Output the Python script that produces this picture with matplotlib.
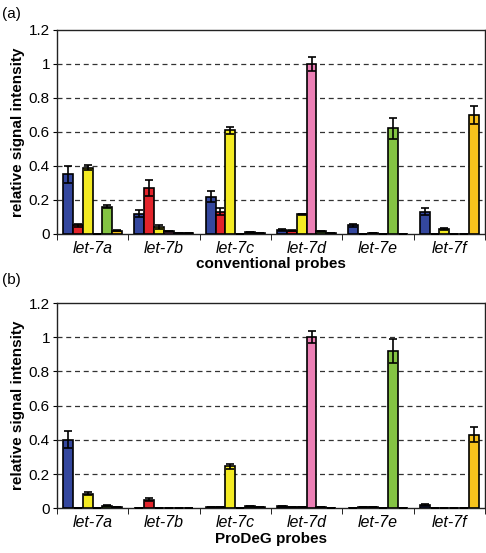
import numpy as np
import matplotlib
matplotlib.use('Agg')
import matplotlib.pyplot as plt

plt.rcParams['font.family'] = ['Liberation Sans', 'DejaVu Sans']

groups = ['let-7a', 'let-7b', 'let-7c', 'let-7d', 'let-7e', 'let-7f']
colors = ['#34479e', '#e2242b', '#f4eb23', '#ec7fb5', '#84c343', '#f7c31c']

# panel (a) conventional probes: rows = bar colour, cols = group
conv_vals = [
    [0.35, 0.12, 0.22, 0.025, 0.05, 0.13],
    [0.05, 0.27, 0.13, 0.02, 0.0, 0.0],
    [0.39, 0.04, 0.61, 0.115, 0.005, 0.03],
    [0.0, 0.015, 0.0, 1.0, 0.0, 0.0],
    [0.16, 0.005, 0.01, 0.015, 0.62, 0.0],
    [0.02, 0.005, 0.005, 0.005, 0.0, 0.70],
]
conv_err = [
    [0.05, 0.02, 0.035, 0.005, 0.01, 0.02],
    [0.01, 0.045, 0.02, 0.003, 0.0, 0.0],
    [0.015, 0.01, 0.02, 0.005, 0.0, 0.005],
    [0.0, 0.003, 0.0, 0.04, 0.0, 0.0],
    [0.01, 0.0, 0.003, 0.003, 0.06, 0.0],
    [0.003, 0.0, 0.0, 0.0, 0.0, 0.055],
]

# panel (b) ProDeG probes
prodeg_vals = [
    [0.40, 0.0, 0.005, 0.01, 0.0, 0.02],
    [0.0, 0.05, 0.005, 0.005, 0.005, 0.0],
    [0.085, 0.0, 0.245, 0.005, 0.005, 0.0],
    [0.0, 0.0, 0.0, 1.0, 0.0, 0.0],
    [0.015, 0.0, 0.01, 0.005, 0.92, 0.0],
    [0.005, 0.0, 0.005, 0.0, 0.0, 0.43],
]
prodeg_err = [
    [0.05, 0.0, 0.0, 0.003, 0.0, 0.005],
    [0.0, 0.01, 0.0, 0.0, 0.0, 0.0],
    [0.01, 0.0, 0.015, 0.0, 0.0, 0.0],
    [0.0, 0.0, 0.0, 0.035, 0.0, 0.0],
    [0.003, 0.0, 0.003, 0.0, 0.07, 0.0],
    [0.0, 0.0, 0.0, 0.0, 0.0, 0.045],
]

yticks = [0, 0.2, 0.4, 0.6, 0.8, 1.0, 1.2]
ytick_labels = ['0', '0.2', '0.4', '0.6', '0.8', '1', '1.2']


def draw_panel(ax, vals, errs, xlabel):
    x = np.arange(len(groups))
    w = 0.138
    for i in range(len(vals)):
        pos = x - 2.5 * w + i * w
        ax.bar(pos, vals[i], width=w, color=colors[i], edgecolor='black',
               linewidth=1.2, zorder=3)
        ax.errorbar(pos, vals[i], yerr=errs[i], fmt='none', ecolor='black',
                    elinewidth=1.2, capsize=3, capthick=1.2, zorder=4)
    ax.set_xlim(-0.5, len(groups) - 0.5)
    ax.set_ylim(0, 1.2)
    ax.set_yticks(yticks)
    ax.set_yticklabels(ytick_labels, fontsize=11)
    ax.set_xticks(x)
    ax.set_xticklabels(groups, fontsize=11.5, style='italic')
    ax.tick_params(axis='x', length=0, pad=5)
    ax.set_xticks(np.arange(len(groups) + 1) - 0.5, minor=True)
    ax.tick_params(axis='x', which='minor', length=4, direction='out')
    ax.tick_params(axis='y', length=3, direction='out', pad=2)
    for yv in yticks[1:-1]:
        ax.axhline(yv, color='#333333', linestyle=(0, (4, 3)), linewidth=0.9, zorder=1)
    for sp in ax.spines.values():
        sp.set_linewidth(1.0)
        sp.set_color('#222222')
    ax.set_ylabel('relative signal intensity', fontsize=11, fontweight='bold', labelpad=3)
    ax.set_xlabel(xlabel, fontsize=11, fontweight='bold', labelpad=1)


fig = plt.figure(figsize=(4.86, 5.53), dpi=100)
ax1 = fig.add_axes([0.117, 0.577, 0.881, 0.369])
ax2 = fig.add_axes([0.117, 0.081, 0.881, 0.371])

draw_panel(ax1, conv_vals, conv_err, 'conventional probes')
draw_panel(ax2, prodeg_vals, prodeg_err, 'ProDeG probes')

fig.text(0.005, 0.988, '(a)', fontsize=11, va='top')
fig.text(0.005, 0.507, '(b)', fontsize=11, va='top')

fig.savefig('out.png', dpi=100)
